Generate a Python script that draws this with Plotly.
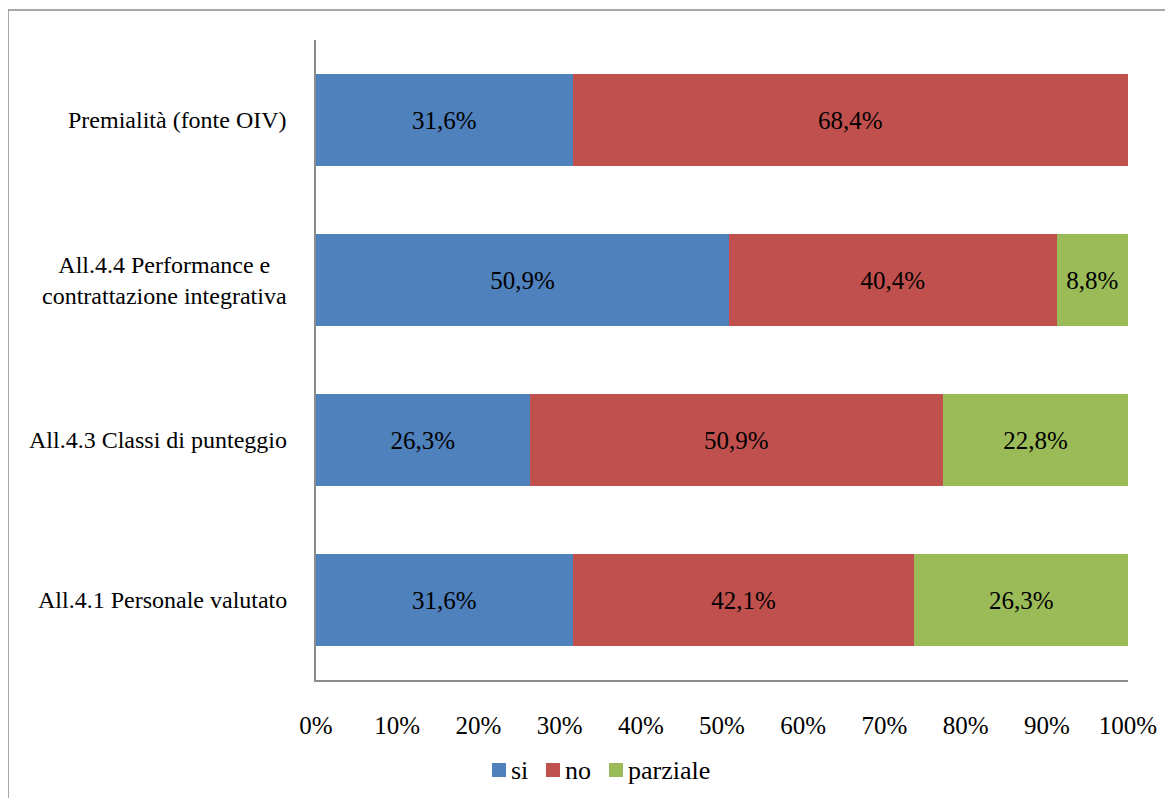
import plotly.graph_objects as go

categories = ["All.4.1 Personale valutato", "All.4.3 Classi di punteggio",
              "All.4.4 Performance e<br>contrattazione integrativa", "Premialità (fonte OIV)"]
si = [31.6, 26.3, 50.9, 31.6]
no = [42.1, 50.9, 40.4, 68.4]
parziale = [26.3, 22.8, 8.8, 0.0]
x_ticks = [0, 10, 20, 30, 40, 50, 60, 70, 80, 90, 100]

series = [("si", si, "#4F81BD"), ("no", no, "#C0504D"), ("parziale", parziale, "#9BBB59")]

OFF = 8  # page body margin
W, H = 1173, 798
L, T = 316 - OFF, 40 - OFF
pw, ph = 812, 640
R, B = W - L - pw, H - T - ph
FONT = "Times New Roman, Liberation Serif, serif"


def px(xp):
    return (xp - OFF - L) / pw


def py(yp):
    return (T + ph - (yp - OFF)) / ph


fig = go.Figure()
for name, vals, col in series:
    txt = [("%.1f%%" % v).replace(".", ",") if v > 0 else "" for v in vals]
    fig.add_trace(go.Bar(
        y=categories, x=vals, name=name, orientation="h",
        marker=dict(color=col, line=dict(width=0)),
        text=txt, textposition="inside", insidetextanchor="middle",
        textfont=dict(family=FONT, size=25, color="black"),
        texttemplate="%{text}", textangle=0, showlegend=False,
    ))

annotations = []
for c in categories:
    annotations.append(dict(text=c, x=-27 / pw, xref="paper", y=c, yref="y",
                            xanchor="right", yanchor="middle", align="center", showarrow=False,
                            font=dict(family=FONT, size=24, color="black")))

shapes = [dict(type="rect", xref="paper", yref="paper",
               x0=px(8), x1=px(1190), y0=py(815), y1=py(10),
               line=dict(color="#8c8c8c", width=1.5), fillcolor="rgba(0,0,0,0)", layer="below")]

# custom legend (squares + labels) at bottom
legend_x = [492, 546, 609]
for (name, vals, col), lx in zip(series, legend_x):
    shapes.append(dict(type="rect", xref="paper", yref="paper",
                       x0=px(lx), x1=px(lx + 14), y0=py(777), y1=py(763),
                       line=dict(width=0), fillcolor=col))
    annotations.append(dict(text=name, x=px(lx + 17), xref="paper", y=py(770), yref="paper",
                            xanchor="left", yanchor="middle", showarrow=False,
                            font=dict(family=FONT, size=26, color="black")))

fig.update_layout(
    barmode="stack", barnorm="percent", bargap=0.43,
    width=W, height=H,
    margin=dict(l=L, r=R, t=T, b=B, autoexpand=False),
    paper_bgcolor="white", plot_bgcolor="white",
    font=dict(family=FONT, size=25, color="black"),
    showlegend=False,
    annotations=annotations,
    shapes=shapes,
    uniformtext=dict(mode="show", minsize=10),
)
fig.update_xaxes(range=[0, 100], tickvals=x_ticks, ticktext=[f"{v}%" for v in x_ticks],
                 showgrid=False, zeroline=False, showline=True, linecolor="#8c8c8c", linewidth=2,
                 ticks="", ticklabelstandoff=22, tickfont=dict(size=25))
fig.update_yaxes(showticklabels=False, showgrid=False, zeroline=False,
                 showline=True, linecolor="#8c8c8c", linewidth=2, ticks="")

fig.write_html("out.html")
